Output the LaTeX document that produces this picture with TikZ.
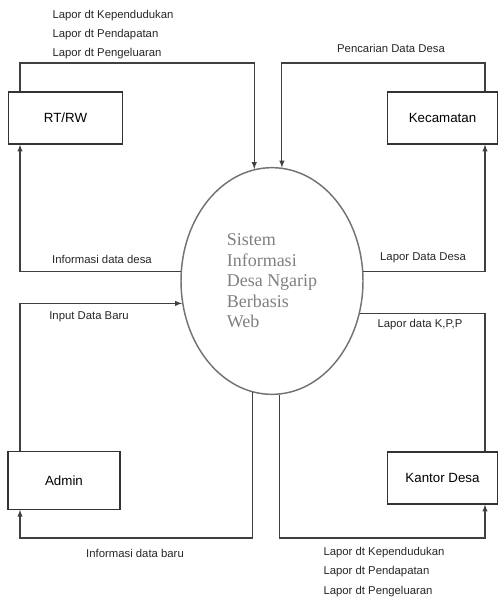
\documentclass[tikz,border=0pt]{standalone}
\usepackage{fontspec}
\setmainfont{Liberation Serif}
\setsansfont{Liberation Sans}
\usetikzlibrary{shapes.geometric}

\tikzstyle{entity} = [draw=black!80,thick,rectangle,inner sep=0pt,font=\sffamily\fontsize{10}{12}\selectfont]
\tikzstyle{process} = [draw=black!55,line width=1.1pt,ellipse,inner sep=0pt,minimum width=136.5pt,minimum height=170pt,
  align=left,text=black!50,font=\fontsize{13.5}{15.4}\selectfont]
\tikzstyle{flowlabel} = [align=left,inner sep=0pt,text=black!85,font=\sffamily\fontsize{8.5}{14.3}\selectfont]
\tikzstyle{flow} = [draw=black!75,thick]

\begin{document}
\begin{tikzpicture}[x=0.75pt,y=-0.75pt]
		\useasboundingbox (0,0) rectangle (499,603);
		\node[entity,minimum width=86pt,minimum height=39pt] (rtrw) at (65.5,118) {RT/RW};
		\node[entity,minimum width=82pt,minimum height=39pt] (kec) at (442.5,118) {Kecamatan};
		\node[entity,minimum width=84pt,minimum height=43pt] (admin) at (64,480.5) {Admin};
		\node[entity,minimum width=82pt,minimum height=39pt] (kantor) at (442.5,478) {Kantor Desa};
		\node[process] (sys) at (272,281) {Sistem\\Informasi\\Desa Ngarip\\Berbasis\\Web};
		\draw[flow,->,>=latex] (rtrw.north -| 20,0) |- (sys.99 |- 0,63) -- (sys.99);
		\draw[flow,->,>=latex] (kec.north -| 485,0) |- (sys.85 |- 0,63) -- (sys.85);
		\draw[flow,->,>=latex] (sys.174) -| (rtrw.south -| 20,0);
		\draw[flow,->,>=latex] (admin.north -| 20,0) |- (sys.194);
		\draw[flow,->,>=latex] (sys.6) -| (kec.south -| 485,0);
		\draw[flow] (kantor.north -| 485,0) |- (sys.340);
		\draw[flow,->,>=latex] (sys.260) -- (sys.260 |- 0,538) -| (admin.south -| 20,0);
		\draw[flow,->,>=latex] (sys.274) -- (sys.274 |- 0,538) -| (kantor.south -| 485,0);
		\node[flowlabel] (l1) at (113,35) {Lapor dt Kependudukan\\Lapor dt Pendapatan\\Lapor dt Pengeluaran};
		\node[flowlabel] (l2) at (391,48) {Pencarian Data Desa};
		\node[flowlabel] (l3) at (102,259) {Informasi data desa};
		\node[flowlabel] (l4) at (89,317) {Input Data Baru};
		\node[flowlabel] (l5) at (423,258) {Lapor Data Desa};
		\node[flowlabel] (l6) at (420,325) {Lapor data K,P,P};
		\node[flowlabel] (l7) at (135,553) {Informasi data baru};
		\node[flowlabel] (l8) at (384,572) {Lapor dt Kependudukan\\Lapor dt Pendapatan\\Lapor dt Pengeluaran};
\end{tikzpicture}
\end{document}
